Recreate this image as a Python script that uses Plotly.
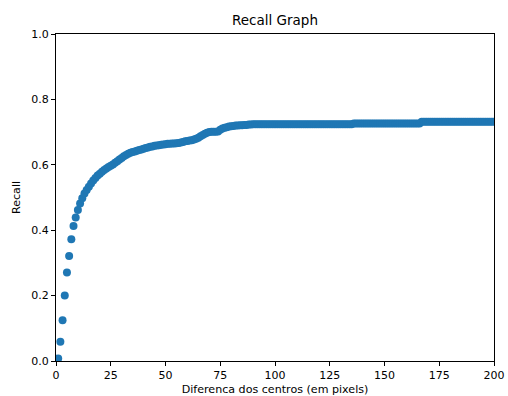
import plotly.graph_objects as go

title_text = "Recall Graph"
x_label = "Diferenca dos centros (em pixels)"
y_label = "Recall"

distance = list(range(1, 201))

recall_start = [
    0.008, 0.059, 0.125, 0.200, 0.271, 0.321, 0.372, 0.413, 0.439, 0.462,
    0.482, 0.498, 0.512, 0.523, 0.533, 0.543, 0.552, 0.560, 0.567, 0.573,
    0.579, 0.584, 0.589, 0.593, 0.597, 0.601, 0.606, 0.611, 0.616, 0.621,
    0.626, 0.630, 0.634, 0.637, 0.639, 0.641, 0.643, 0.645, 0.647, 0.649,
    0.651, 0.653, 0.655, 0.656, 0.658, 0.659, 0.660, 0.661, 0.662, 0.663,
    0.664, 0.664, 0.665, 0.665, 0.666, 0.667, 0.668, 0.670, 0.672, 0.673,
    0.674, 0.675, 0.677, 0.680, 0.683, 0.687, 0.691, 0.695, 0.698, 0.700,
    0.701, 0.701, 0.701, 0.702, 0.707, 0.711, 0.713, 0.715, 0.717, 0.718,
    0.719, 0.720, 0.720, 0.721, 0.721, 0.722, 0.722, 0.723, 0.723,
]
recall_mid = [0.724] * 46      # x = 90 .. 135
recall_late = [0.726] * 31     # x = 136 .. 166
recall_end = [0.732] * 34      # x = 167 .. 200
recall = recall_start + recall_mid + recall_late + recall_end

x_ticks = [0, 25, 50, 75, 100, 125, 150, 175, 200]
y_ticks = [0.0, 0.2, 0.4, 0.6, 0.8, 1.0]
y_tick_labels = ["0.0", "0.2", "0.4", "0.6", "0.8", "1.0"]

font_family = "DejaVu Sans"

fig = go.Figure()
fig.add_trace(go.Scatter(
    x=distance, y=recall, mode="markers",
    marker=dict(color="#1f77b4", size=8, line=dict(width=0)),
    cliponaxis=True, showlegend=False,
))

axis_common = dict(
    showgrid=False, zeroline=False, showline=True, linecolor="black",
    linewidth=1, mirror=True, ticks="outside", ticklen=4, tickwidth=1,
    tickcolor="black", automargin=False,
    tickfont=dict(family=font_family, size=11, color="black"),
)

fig.update_layout(
    width=508, height=396,
    margin=dict(l=56, r=14, t=34, b=35),
    paper_bgcolor="white", plot_bgcolor="white",
    font=dict(family=font_family, color="black"),
    title=dict(text=title_text, x=275 / 508, xanchor="center", y=1 - 20 / 396,
               yanchor="middle", font=dict(family=font_family, size=13.5)),
    xaxis=dict(range=[0, 200], tickvals=x_ticks, **axis_common,
               title=dict(text=x_label, standoff=9,
                          font=dict(family=font_family, size=11.1))),
    yaxis=dict(range=[0, 1.0], tickvals=y_ticks, ticktext=y_tick_labels,
               **axis_common,
               title=dict(text=y_label, standoff=8,
                          font=dict(family=font_family, size=11.1))),
)

fig.write_html("out.html")
